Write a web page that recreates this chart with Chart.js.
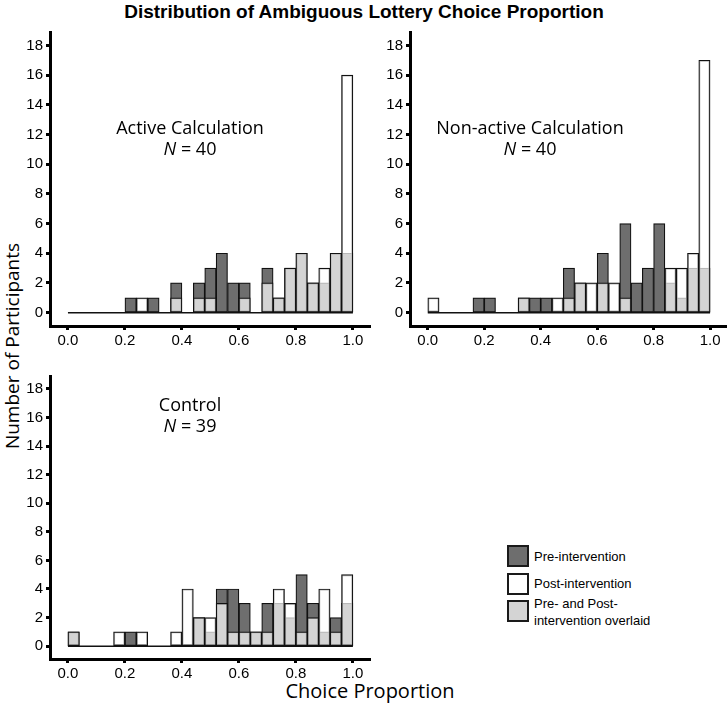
<!DOCTYPE html>
<html>
<head>
<meta charset="utf-8">
<script src="https://cdn.jsdelivr.net/npm/chart.js@4.4.1/dist/chart.umd.min.js"></script>
<style>
body { margin: 0; width: 727px; height: 710px; background: #fff; position: relative; overflow: hidden; font-family: "Liberation Sans", Arial, sans-serif; color: #000; }
canvas { position: absolute; }
.txt { position: absolute; white-space: nowrap; transform: translate(-50%, -50%); }
.panel { font-family: "Open Sans", sans-serif; font-size: 18px; text-align: center; line-height: 21px; }
.box { position: absolute; width: 18px; height: 18px; border: 2px solid #1a1a1a; }
.leg { position: absolute; font-size: 13px; line-height: 17px; white-space: nowrap; }
</style>
</head>
<body>

<div class="txt" style="left:364px; top:12px; font-weight:bold; font-size:19px;">Distribution of Ambiguous Lottery Choice Proportion</div>
<div class="txt" style="left:12px; top:346px; transform: translate(-50%, -50%) rotate(-90deg); font-family:'Open Sans',sans-serif; font-size:19px;">Number of Participants</div>
<div class="txt" style="left:370px; top:690px; font-family:'Open Sans',sans-serif; font-size:20px;">Choice Proportion</div>

<canvas id="active_calc" width="375" height="330" style="left:0px; top:27px;"></canvas>
<canvas id="nonactive_calc" width="367" height="330" style="left:360px; top:27px;"></canvas>
<canvas id="control_group" width="375" height="319" style="left:0px; top:371px;"></canvas>

<div class="txt panel" style="left:190px; top:138px;">Active Calculation<br><i>N</i> = 40</div>
<div class="txt panel" style="left:530px; top:138px;">Non-active Calculation<br><i>N</i> = 40</div>
<div class="txt panel" style="left:190px; top:415px;">Control<br><i>N</i> = 39</div>

<div class="box" style="left:507px; top:545px; background:#6e6e6e;"></div>
<div class="leg" style="left:534px; top:548px;">Pre-intervention</div>
<div class="box" style="left:507px; top:573px; background:#ffffff;"></div>
<div class="leg" style="left:534px; top:575px;">Post-intervention</div>
<div class="box" style="left:507px; top:600px; background:#d4d4d4;"></div>
<div class="leg" style="left:534px; top:595px;">Pre- and Post-<br>intervention overlaid</div>

<script>
// histogram bins of width 0.04, centres
const binCenters = [0.02, 0.06, 0.10, 0.14, 0.18, 0.22, 0.26, 0.30, 0.34, 0.38, 0.42, 0.46, 0.50,
                    0.54, 0.58, 0.62, 0.66, 0.70, 0.74, 0.78, 0.82, 0.86, 0.90, 0.94, 0.98]
const xTicks = [0.0, 0.2, 0.4, 0.6, 0.8, 1.0]
const yTicks = [0, 2, 4, 6, 8, 10, 12, 14, 16, 18]
const rangeStart = 0
const rangeEnd = 1

const activePre =     [0,0,0,0,0,1,0,1,0,2,0,2,3,4,2,2,0,3,1,3,4,2,2,4,4]
const activePost =    [0,0,0,0,0,0,1,0,0,1,0,1,1,0,0,1,0,2,1,3,4,2,3,4,16]
const nonActivePre =  [0,0,0,0,1,1,0,0,1,1,1,0,3,2,0,4,0,6,2,3,6,2,1,3,3]
const nonActivePost = [1,0,0,0,0,0,0,0,1,0,0,1,1,2,2,2,2,1,0,0,0,3,3,4,17]
const controlPre =    [1,0,0,0,0,1,0,0,0,0,0,2,1,4,4,3,1,3,3,2,5,3,1,2,3]
const controlPost =   [1,0,0,0,1,0,1,0,0,1,4,2,2,3,1,1,1,1,4,3,1,2,4,1,5]

Chart.defaults.font.family = '"Liberation Sans", Arial, sans-serif'
Chart.defaults.color = '#000'

function toPoints(values) {
    return binCenters.map((c, i) => ({ x: c, y: values[i] }))
}

function axisStyle() {
    return {
        offset: false,
        border: { display: true, color: '#000', width: 3 },
        grid: { offset: false, drawOnChartArea: false, drawTicks: true, tickLength: 4, tickWidth: 3, tickColor: '#000' }
    }
}

/*
 * One panel: pre histogram underneath, post histogram in see-through white on top
 */
function histConfig(pre, post, rightPad) {
    let xAxis = axisStyle()
    xAxis.type = 'linear'
    xAxis.min = -0.063
    xAxis.max = 1.06
    xAxis.afterBuildTicks = (scale) => { scale.ticks = xTicks.map(v => ({ value: v })) }
    xAxis.afterFit = (scale) => { scale.height = 31; scale.paddingLeft = 0; scale.paddingRight = 0 }
    xAxis.ticks = { font: { size: 15 }, padding: 2, maxRotation: 0, callback: (v) => Number(v).toFixed(1) }

    let yAxis = axisStyle()
    yAxis.min = -0.9
    yAxis.max = 18.9
    yAxis.afterBuildTicks = (scale) => { scale.ticks = yTicks.map(v => ({ value: v })) }
    yAxis.afterFit = (scale) => { scale.width = 50; scale.paddingTop = 0; scale.paddingBottom = 0 }
    yAxis.ticks = { font: { size: 15 }, padding: 3 }

    return {
        type: 'bar',
        data: {
            datasets: [
                {
                    label: 'Post-intervention',
                    data: toPoints(post),
                    backgroundColor: 'rgba(255,255,255,0.7)',
                    borderColor: '#111',
                    borderWidth: 1.2,
                    borderSkipped: false,
                    order: 1
                },
                {
                    label: 'Pre-intervention',
                    data: toPoints(pre),
                    backgroundColor: '#6e6e6e',
                    borderColor: '#111',
                    borderWidth: 1.2,
                    borderSkipped: false,
                    order: 2
                },
                {
                    type: 'line',
                    data: [{ x: rangeStart, y: 0 }, { x: rangeEnd, y: 0 }],
                    borderColor: '#111',
                    borderWidth: 1.5,
                    pointRadius: 0,
                    order: 3
                }
            ]
        },
        options: {
            responsive: false,
            animation: false,
            grouped: false,
            barPercentage: 1,
            categoryPercentage: 1,
            layout: { padding: { top: 5, right: rightPad, left: 0, bottom: 0 } },
            plugins: { legend: { display: false }, tooltip: { enabled: false } },
            scales: { x: xAxis, y: yAxis }
        }
    }
}

var activeChart = new Chart(document.getElementById('active_calc'), histConfig(activePre, activePost, 5))
var nonActiveChart = new Chart(document.getElementById('nonactive_calc'), histConfig(nonActivePre, nonActivePost, 0))
var controlChart = new Chart(document.getElementById('control_group'), histConfig(controlPre, controlPost, 5))
</script>
</body>
</html>
